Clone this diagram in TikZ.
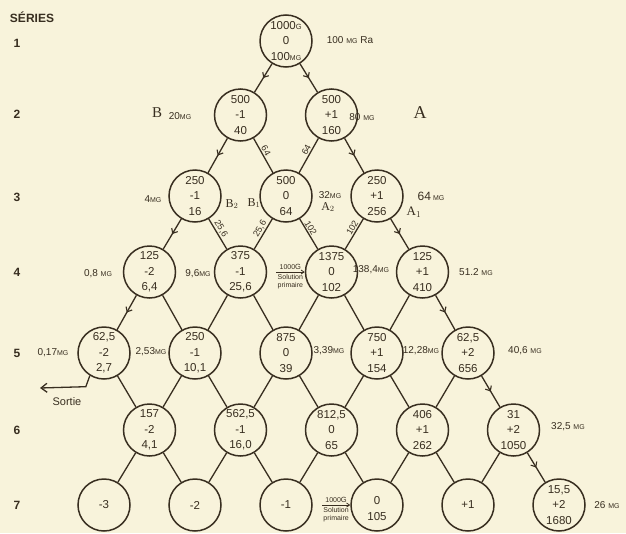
\documentclass[tikz,border=0pt]{standalone}
\usepackage{fontspec}
\setmainfont{Liberation Sans}
\newfontfamily\letterfont{Liberation Serif}
\usetikzlibrary{arrows.meta,decorations.markings}
\definecolor{PaperCream}{RGB}{248,243,219}
\definecolor{InkBrown}{RGB}{56,46,32}
\newcommand{\mg}{{\fontsize{7}{7}\selectfont MG}}
\newcommand{\gr}{{\fontsize{7.5}{7}\selectfont G}}
\newcommand{\cellfont}{\fontsize{11.5}{15.5}\selectfont}

\begin{document}
\begin{tikzpicture}[x=1pt,y=-1pt,
  cell/.style={circle,draw=InkBrown,line width=1.5pt,minimum size=52pt,inner sep=0pt,
    align=center,font=\cellfont,text=InkBrown},
  link/.style={draw=InkBrown,line width=1.3pt},
  flow/.style={link,postaction={decorate},decoration={markings,
    mark=at position 0.5 with {\arrow{Straight Barb[length=4pt,width=7pt,line width=1.1pt]}}}},
  side/.style={text=InkBrown,font=\fontsize{10}{10}\selectfont,inner sep=1pt},
  letter/.style={text=InkBrown,font=\letterfont\fontsize{15}{15}\selectfont,inner sep=0pt},
  edgenum/.style={sloped,above,text=InkBrown,font=\fontsize{9}{9}\selectfont,inner sep=1pt},
  note/.style={text=InkBrown,font=\fontsize{7}{8}\selectfont,inner sep=1pt,align=center},
  series/.style={text=InkBrown,font=\bfseries\fontsize{12}{12}\selectfont}]
  \fill[PaperCream] (0,0) rectangle (626,533);
  \useasboundingbox (0,0) rectangle (626,533);

  \node[series] (head) at (32,17) {SÉRIES};
  \foreach \r/\y in {1/43,2/114,3/197,4/272,5/353,6/430,7/505}
    \node[series] (row\r) at (17,\y) {\r};

  \node[cell] (n11) at (286,41) {1000\gr\\0\\100\mg};
  \node[cell] (n21) at (240.5,115) {500\\-1\\40};
  \node[cell] (n22) at (331.5,115) {500\\+1\\160};
  \node[cell] (n31) at (195,196) {250\\-1\\16};
  \node[cell] (n32) at (286,196) {500\\0\\64};
  \node[cell] (n33) at (377,196) {250\\+1\\256};
  \node[cell] (n41) at (149.5,272) {125\\-2\\6,4};
  \node[cell] (n42) at (240.5,272) {375\\-1\\25,6};
  \node[cell] (n43) at (331.5,272) {1375\\0\\102};
  \node[cell] (n44) at (422.5,272) {125\\+1\\410};
  \node[cell] (n51) at (104,353) {62,5\\-2\\2,7};
  \node[cell] (n52) at (195,353) {250\\-1\\10,1};
  \node[cell] (n53) at (286,353) {875\\0\\39};
  \node[cell] (n54) at (377,353) {750\\+1\\154};
  \node[cell] (n55) at (468,353) {62,5\\+2\\656};
  \node[cell] (n61) at (149.5,430) {157\\-2\\4,1};
  \node[cell] (n62) at (240.5,430) {562,5\\-1\\16,0};
  \node[cell] (n63) at (331.5,430) {812,5\\0\\65};
  \node[cell] (n64) at (422.5,430) {406\\+1\\262};
  \node[cell] (n65) at (513.5,430) {31\\+2\\1050};
  \node[cell] (n71) at (104,505) {-3};
  \node[cell] (n72) at (195,505) {-2};
  \node[cell] (n73) at (286,505) {-1};
  \node[cell] (n74) at (377,505) {~\\0\\105};
  \node[cell] (n75) at (468,505) {+1};
  \node[cell] (n76) at (559,505) {15,5\\+2\\1680};

  \foreach \a/\b in {11/21,11/22,21/31,22/33,31/41,33/44,41/51,44/55,55/65,65/76}
    \draw[flow] (n\a) -- (n\b);
  \foreach \a/\b in {41/52,42/52,42/53,43/53,43/54,44/54,51/61,52/61,52/62,53/62,53/63,
      54/63,54/64,55/64,61/71,61/72,62/72,62/73,63/73,63/74,64/74,64/75,65/75}
    \draw[link] (n\a) -- (n\b);
  \draw[link] (n21) -- node[edgenum,pos=0.43] {64} (n32);
  \draw[link] (n22) -- node[edgenum,pos=0.41] {64} (n32);
  \draw[link] (n31) -- node[edgenum,pos=0.42] {25,6} (n42);
  \draw[link] (n32) -- node[edgenum,pos=0.42] {25,6} (n42);
  \draw[link] (n32) -- node[edgenum,pos=0.38] {102} (n43);
  \draw[link] (n33) -- node[edgenum,pos=0.38] {102} (n43);

  \coordinate (out) at (40,388);
  \draw[link,-{Straight Barb[length=6pt,width=9pt]}] (n51.238) -- ++(-4,11) -- (out);
  \node[side,font=\fontsize{11}{11}\selectfont] (sortie) at (67,402) {Sortie};

  \coordinate (feed4) at (276,272);
  \draw[link,line width=0.8pt,-{Straight Barb[length=3pt,width=4pt]}] (feed4) --
    node[note,above=1pt] {1000\gr} node[note,below=1pt] {Solution\\primaire} (n43);
  \coordinate (feed7) at (322,505);
  \draw[link,line width=0.8pt,-{Straight Barb[length=3pt,width=4pt]}] (feed7) --
    node[note,above=1pt] {1000\gr} node[note,below=1pt] {Solution\\primaire} (n74);

  \node[side] (m1) at (350,40) {100 \mg\ Ra};
  \node[letter] (lB) at (157,113) {B};
  \node[side] (m2l) at (180,116) {20\mg};
  \node[side] (m2r) at (362,117) {80 \mg};
  \node[letter,font=\letterfont\fontsize{18}{18}\selectfont] (lA) at (420,113) {A};
  \node[side] (m3l) at (153,199) {4\mg};
  \node[letter,font=\letterfont\fontsize{12}{12}\selectfont] (lB2) at (232,204) {B$_2$};
  \node[letter,font=\letterfont\fontsize{12}{12}\selectfont] (lB1) at (254,203) {B$_1$};
  \node[side] (m3c) at (330,195) {32\mg};
  \node[letter,font=\letterfont\fontsize{12}{12}\selectfont] (lA2) at (328,207) {A$_2$};
  \node[side,font=\fontsize{12}{12}\selectfont] (m3r) at (431,196) {64\,\mg};
  \node[letter,font=\letterfont\fontsize{13}{13}\selectfont] (lA1) at (414,212) {A$_1$};
  \node[side] (m4a) at (98,274) {0,8 \mg};
  \node[side] (m4b) at (198,274) {9,6\mg};
  \node[side] (m4c) at (371,270) {138,4\mg};
  \node[side] (m4d) at (476,272) {51.2 \mg};
  \node[side] (m5a) at (53,353) {0,17\mg};
  \node[side] (m5b) at (151,352) {2,53\mg};
  \node[side] (m5c) at (329,351) {3,39\mg};
  \node[side] (m5d) at (421,351) {12,28\mg};
  \node[side] (m5e) at (525,351) {40,6 \mg};
  \node[side] (m6) at (568,427) {32,5 \mg};
  \node[side] (m7) at (607,505) {26 \mg};
\end{tikzpicture}
\end{document}
